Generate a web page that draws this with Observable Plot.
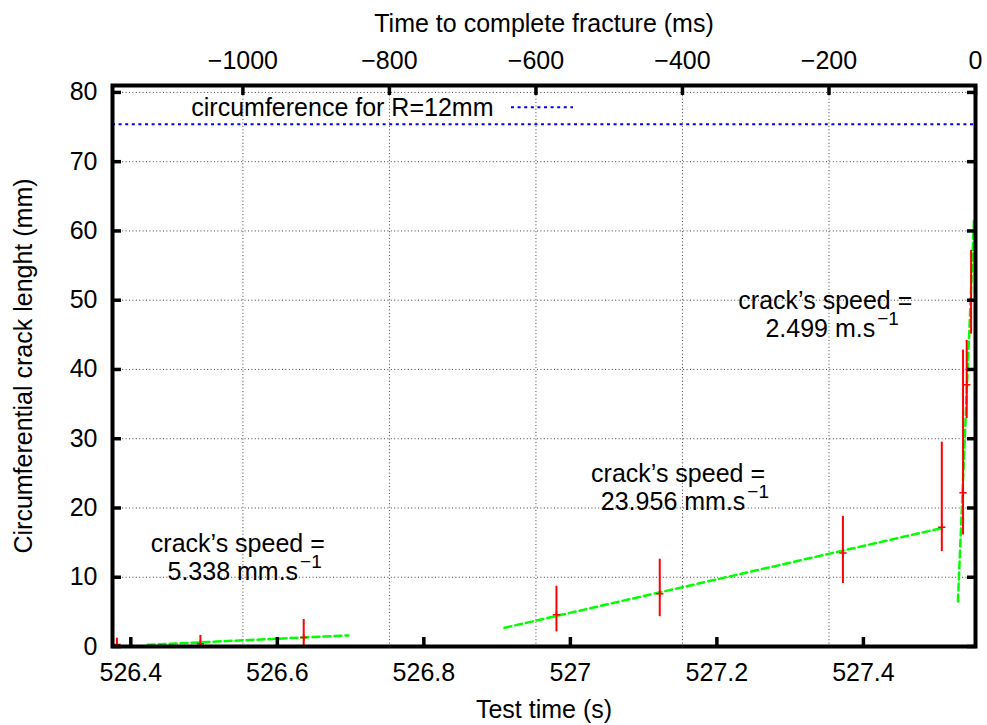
<!DOCTYPE html>
<html>
<head>
<meta charset="utf-8">
<script src="https://cdn.jsdelivr.net/npm/d3@7"></script>
<script src="https://cdn.jsdelivr.net/npm/@observablehq/plot@0.6"></script>
<style>
  html, body { margin: 0; padding: 0; background: #fff; }
  #chart { width: 987px; height: 725px; overflow: hidden; }
</style>
</head>
<body>
<div id="chart"></div>
<script>
// ---- measurements (test time in s, crack length in mm, error bar ends) ----
const testTime    = [526.381, 526.495, 526.636, 526.981, 527.122, 527.372, 527.507, 527.536, 527.541, 527.547];
const crackLength = [0.3, 0.4, 1.3, 4.6, 7.6, 13.5, 17.2, 22.2, 37.8, 49.9];
const lengthLow   = [0, 0, 0, 2.1, 4.3, 9.1, 13.7, 16.1, 32.9, 45.1];
const lengthHigh  = [1.2, 1.6, 3.9, 8.7, 12.6, 18.8, 29.5, 42.8, 44.2, 57.2];

// ---- linear fits (dashed green), two end points each ----
const fitName   = ["slow", "slow", "mid", "mid", "fast", "fast"];
const fitTime   = [526.423, 526.697, 526.910, 527.507, 527.529, 527.551];
const fitLength = [0.25, 1.6, 2.7, 17.1, 6.5, 61.8];

// ---- speed annotations ----
const speedTitle = "crack’s speed =";
const speedValue = ["5.338 mm.s", "23.956 mm.s", "2.499 m.s"];
const speedExponent = "−1";
const speedTime   = [526.546, 527.147, 527.348];
const speedLength = [14.76, 24.87, 49.89];

// ---- reference line ----
const circumference = 75.4;            // 2·π·12 mm
const keyLabel = "circumference for R=12mm";

// ---- axes ----
const fractureTime = 527.553;          // test time of complete fracture (s)
const xStart = 526.375;
const yMax = 81;
const xTicks = [526.4, 526.6, 526.8, 527, 527.2, 527.4];
const xTickLabels = ["526.4", "526.6", "526.8", "527", "527.2", "527.4"];
const msTicks = [-1000, -800, -600, -400, -200, 0];
const msTickLabels = ["−1000", "−800", "−600", "−400", "−200", "0"];
const yTicks = [0, 10, 20, 30, 40, 50, 60, 70, 80];
const xTitle = "Test time (s)";
const x2Title = "Time to complete fracture (ms)";
const yTitle = "Circumferential crack lenght (mm)";

// ---- derived tables ----
const measurements = testTime.map((t, i) => ({t, len: crackLength[i], low: lengthLow[i], high: lengthHigh[i]}));
const fits = fitTime.map((t, i) => ({fit: fitName[i], t, len: fitLength[i]}));
const notes = speedTime.map((t, i) => ({t, len: speedLength[i], value: speedValue[i]}));
const topTicks = msTicks.map(ms => fractureTime + ms / 1000);

const FONT = "'Liberation Sans', Arial, Helvetica, sans-serif";
const FS = 25, SUP = 19;
const ctx = document.createElement("canvas").getContext("2d");
ctx.font = `${FS}px ${FONT}`;

const gridStyle = {stroke: "#444", strokeOpacity: 1, strokeWidth: 1, strokeDasharray: "1,2.4"};
const tickStyle = {tickSize: -9, strokeWidth: 3.5, label: null};

const supMarks = notes.map(n => Plot.text([n], {
  x: "t", y: "len", text: () => speedExponent, textAnchor: "start", lineAnchor: "middle",
  dx: -5 + ctx.measureText(n.value).width / 2 + 2, dy: 18, fontSize: SUP
}));

const chart = Plot.plot({
  width: 987,
  height: 725,
  marginLeft: 112,
  marginRight: 12,
  marginTop: 85,
  marginBottom: 79,
  x: {domain: [xStart, fractureTime]},
  y: {domain: [0, yMax]},
  style: {fontFamily: FONT, fontSize: FS + "px", background: "#fff", color: "#000"},
  marks: [
    Plot.gridX(topTicks, gridStyle),
    Plot.gridY(yTicks, gridStyle),
    Plot.ruleY([circumference], {stroke: "#0000ff", strokeWidth: 2, strokeDasharray: "3,3.6"}),
    Plot.ruleY([circumference], {dy: -17, insetLeft: 399, insetRight: 402, stroke: "#0000ff", strokeWidth: 2, strokeDasharray: "3,3.6"}),
    Plot.text([keyLabel], {text: d => d, frameAnchor: "top-left", dx: 381, dy: 22, textAnchor: "end", lineAnchor: "middle"}),
    Plot.line(fits, {x: "t", y: "len", z: "fit", stroke: "#00ff00", strokeWidth: 2.5, strokeDasharray: "7,4", clip: true}),
    Plot.ruleX(measurements, {x: "t", y1: "low", y2: "high", stroke: "#ff0000", strokeWidth: 2, clip: true}),
    Plot.dot(measurements, {x: "t", y: "len", symbol: "plus", r: 2.5, stroke: "#ff0000", strokeWidth: 1.5}),
    Plot.text(notes, {x: "t", y: "len", text: () => speedTitle, textAnchor: "middle", lineAnchor: "middle"}),
    Plot.text(notes, {x: "t", y: "len", text: "value", textAnchor: "middle", lineAnchor: "middle", dx: -5, dy: 28}),
    ...supMarks,
    Plot.axisX(xTicks, {anchor: "bottom", ...tickStyle, tickPadding: 26, tickFormat: d => xTickLabels[xTicks.indexOf(d)]}),
    Plot.axisX(topTicks, {anchor: "top", ...tickStyle, tickPadding: 26, tickFormat: d => msTickLabels[topTicks.indexOf(d)]}),
    Plot.axisY(yTicks, {anchor: "left", ...tickStyle, tickPadding: 24, tickFormat: d => String(d)}),
    Plot.axisY(yTicks, {anchor: "right", ...tickStyle, tickPadding: 0, tickFormat: () => ""}),
    Plot.text([xTitle], {text: d => d, frameAnchor: "bottom", textAnchor: "middle", lineAnchor: "middle", dy: 63}),
    Plot.text([x2Title], {text: d => d, frameAnchor: "top", textAnchor: "middle", lineAnchor: "middle", dy: -62}),
    Plot.text([yTitle], {text: d => d, frameAnchor: "left", textAnchor: "middle", lineAnchor: "middle", dx: -89, rotate: -90}),
    Plot.frame({stroke: "#000", strokeWidth: 4})
  ]
});
document.getElementById("chart").appendChild(chart);
</script>
</body>
</html>
